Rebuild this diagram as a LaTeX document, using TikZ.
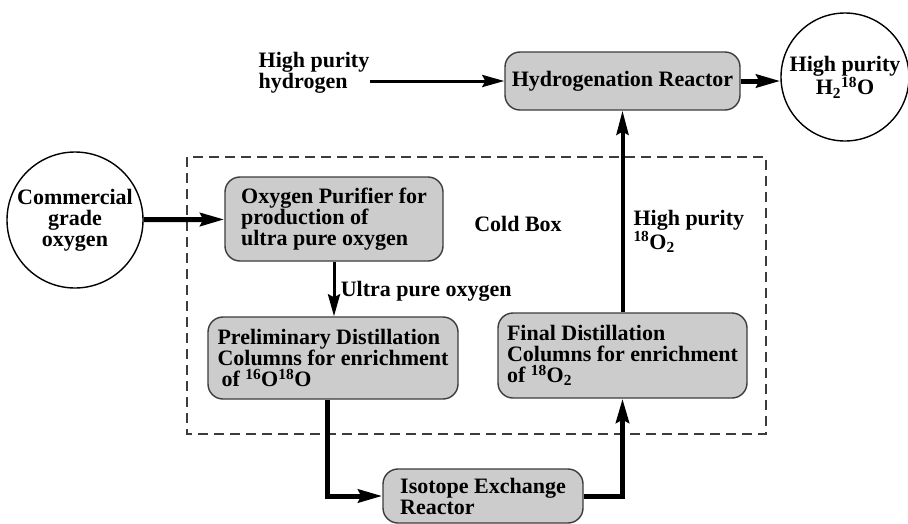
\documentclass[tikz,border=0pt]{standalone}
\usepackage{fontspec}
\setmainfont{Liberation Serif}
\usepackage{tikz}
\usetikzlibrary{calc,arrows.meta}
\definecolor{boxgray}{RGB}{204,204,204}
\definecolor{rimgray}{RGB}{60,60,60}
\def\procbox{\node[draw=rimgray,line width=1.4pt,fill=boxgray,rounded corners=15pt,align=left]}
\def\feednode{\node[circle,draw=black,line width=1.4pt,align=center,inner sep=0pt]}
\def\drawpipe{\draw[line width=5pt,-{Stealth[length=24pt,width=13pt,inset=3pt]}]}
\def\drawline{\draw[line width=3pt,-{Stealth[length=22pt,width=12pt,inset=3pt]}]}

\begin{document}
\begin{tikzpicture}[x=1pt,y=-1pt,font=\bfseries\fontsize{22}{21}\selectfont]
\useasboundingbox (0,0) rectangle (908,523);

% the cold box around the two distillation stages
\draw[rimgray,line width=1.8pt,dash pattern=on 10pt off 6pt] (187,157) rectangle (766,434);
\node (cold) at (518,224) {Cold Box};

% feed and product
\feednode[minimum size=136pt] (cgo) at (75,220) {Commercial\\grade\\oxygen};
\feednode[minimum size=128pt] (prod) at (845,77) {High purity\\H\textsubscript{2}\textsuperscript{18}O};
\node[align=left,inner sep=0pt] (h2in) at (314,73) {High purity\\hydrogen};

% process units (text is set flush left, the box is wider than the text)
\procbox[minimum width=218pt,minimum height=84pt] (purifier) at (334,219)
  {Oxygen Purifier for\\production of\\ultra pure oxygen};
\procbox[minimum width=250pt,minimum height=82pt] (prelim) at (333,358)
  {Preliminary Distillation\\Columns for enrichment\\\hspace{4pt}of \textsuperscript{16}O\textsuperscript{18}O};
\procbox[minimum width=249pt,minimum height=85pt] (final) at (622.5,355.5)
  {Final Distillation\\Columns for enrichment\\of \textsuperscript{18}O\textsubscript{2}};
\procbox[minimum width=200pt,minimum height=54pt] (iso) at (483,496)
  {Isotope Exchange\\Reactor};
\procbox[minimum width=235pt,minimum height=58pt,align=center] (hydrog) at (622.5,81)
  {Hydrogenation Reactor};

% streams
\drawpipe (cgo) -- (purifier);
\drawline (purifier.south) -- node[right,xshift=2pt,yshift=-2pt] {Ultra pure oxygen} (purifier.south |- prelim.north);
\drawpipe ($ (prelim.south) + (-6,0) $) |- (iso.west);
\drawpipe (iso.east) -| (final.south);
\draw[line width=4pt,-{Stealth[length=24pt,width=12pt,inset=3pt]}] (final.north) -- (hydrog.south);
\node[align=left,anchor=north west] (hpo) at (630,207) {High purity\\\textsuperscript{18}O\textsubscript{2}};
\drawline (h2in.east |- hydrog.west) -- (hydrog.west);
\drawpipe (hydrog.east) -- (hydrog.east -| prod.west);
\end{tikzpicture}
\end{document}
